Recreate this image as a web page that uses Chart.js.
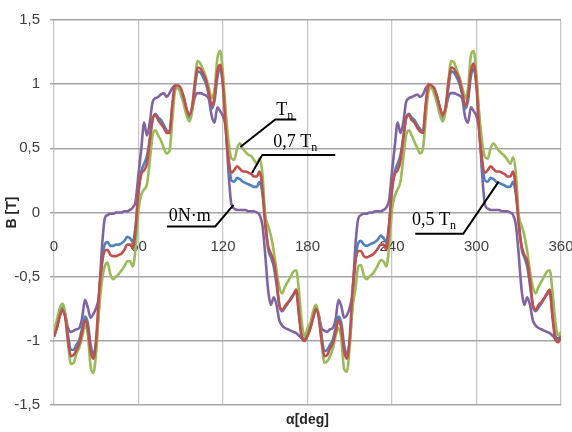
<!DOCTYPE html>
<html>
<head>
<meta charset="utf-8">
<script src="https://cdn.jsdelivr.net/npm/chart.js@4.4.0/dist/chart.umd.min.js"></script>
<style>
  html, body { margin: 0; padding: 0; background: #ffffff; }
  #chart { display: block; }
</style>
</head>
<body>
<canvas id="chart" width="572" height="432"></canvas>
<script>
// Rotor angle in electrical degrees, sampled every 2 degrees
const angles = [
  0,2,4,6,8,10,12,14,16,18,20,22,24,26,28,30,32,34,36,38,40,42,44,46,48,50,52,54,56,58,
  60,62,64,66,68,70,72,74,76,78,80,82,84,86,88,90,92,94,96,98,100,102,104,106,108,110,112,114,116,118,
  120,122,124,126,128,130,132,134,136,138,140,142,144,146,148,150,152,154,156,158,160,162,164,166,168,170,172,174,176,178,
  180,182,184,186,188,190,192,194,196,198,200,202,204,206,208,210,212,214,216,218,220,222,224,226,228,230,232,234,236,238,
  240,242,244,246,248,250,252,254,256,258,260,262,264,266,268,270,272,274,276,278,280,282,284,286,288,290,292,294,296,298,
  300,302,304,306,308,310,312,314,316,318,320,322,324,326,328,330,332,334,336,338,340,342,344,346,348,350,352,354,356,358,360
];

// Flux density B [T] at no load (0 N·m)
const bNoLoad = [
  -0.95,-0.9,-0.8,-0.74,-0.8,-0.9,-0.93,-0.92,-0.91,-0.9,-0.82,-0.68,-0.74,-0.82,-0.79,-0.74,-0.64,-0.28,-0.05,-0.02,-0.01,-0.01,0.0,0.0,0.0,0.01,0.01,0.02,0.04,0.09,0.3,0.5,0.7,0.6,0.7,0.86,0.89,0.9,0.92,0.93,0.9,0.93,0.97,0.99,0.97,
  0.95,0.9,0.81,0.74,0.8,0.9,0.93,0.93,0.92,0.91,0.88,0.75,0.7,0.82,0.79,0.75,0.65,0.3,0.06,0.03,0.02,0.02,0.02,0.02,0.01,0.01,0.01,0.0,-0.02,-0.1,-0.33,-0.6,-0.72,-0.66,-0.72,-0.84,-0.88,-0.9,-0.91,-0.92,-0.93,-0.94,-0.96,-0.98,-0.98,
  -0.96,-0.9,-0.8,-0.74,-0.8,-0.9,-0.92,-0.93,-0.91,-0.9,-0.83,-0.68,-0.73,-0.82,-0.8,-0.74,-0.62,-0.26,-0.05,-0.02,-0.01,-0.01,0.0,0.0,0.01,0.01,0.01,0.02,0.04,0.1,0.32,0.52,0.7,0.62,0.7,0.86,0.89,0.9,0.91,0.92,0.9,0.92,0.97,0.99,0.97,
  0.95,0.9,0.81,0.74,0.8,0.9,0.93,0.93,0.92,0.91,0.88,0.74,0.7,0.82,0.79,0.75,0.64,0.3,0.06,0.03,0.02,0.02,0.02,0.02,0.01,0.01,0.01,0.0,-0.02,-0.1,-0.33,-0.6,-0.72,-0.66,-0.72,-0.84,-0.88,-0.9,-0.91,-0.92,-0.93,-0.94,-0.96,-0.98,-0.98,-0.96
];

// B [T] at 0,5 Tn
const bHalfLoad = [
  -0.96,-0.9,-0.81,-0.75,-0.8,-0.96,-1.07,-1.07,-1.03,-0.99,-0.9,-0.81,-0.86,-1.03,-1.1,-1.0,-0.72,-0.4,-0.25,-0.23,-0.26,-0.26,-0.25,-0.25,-0.24,-0.22,-0.19,-0.2,-0.23,-0.1,0.15,0.32,0.38,0.44,0.57,0.72,0.77,0.74,0.72,0.68,0.64,0.63,0.82,0.97,0.98,
  0.96,0.9,0.81,0.75,0.8,0.97,1.1,1.09,1.05,1.0,0.91,0.81,0.87,1.05,1.12,1.0,0.72,0.42,0.25,0.24,0.27,0.26,0.24,0.23,0.22,0.21,0.2,0.2,0.24,0.15,-0.05,-0.28,-0.35,-0.42,-0.56,-0.72,-0.77,-0.74,-0.71,-0.67,-0.64,-0.62,-0.8,-0.96,-0.99,
  -0.95,-0.9,-0.82,-0.75,-0.8,-0.96,-1.08,-1.07,-1.03,-0.99,-0.9,-0.81,-0.86,-1.03,-1.1,-1.0,-0.7,-0.38,-0.24,-0.22,-0.25,-0.26,-0.25,-0.24,-0.23,-0.21,-0.18,-0.2,-0.23,-0.08,0.16,0.32,0.38,0.45,0.58,0.73,0.77,0.74,0.72,0.68,0.65,0.63,0.83,0.97,0.98,
  0.96,0.9,0.81,0.75,0.8,0.97,1.1,1.09,1.05,1.0,0.91,0.81,0.87,1.06,1.12,1.0,0.72,0.4,0.25,0.24,0.27,0.26,0.24,0.23,0.22,0.21,0.2,0.2,0.24,0.14,-0.06,-0.28,-0.35,-0.42,-0.57,-0.72,-0.77,-0.74,-0.71,-0.67,-0.64,-0.62,-0.8,-0.96,-0.99,-0.97
];

// B [T] at 0,7 Tn
const bLoad07 = [
  -0.97,-0.9,-0.81,-0.76,-0.82,-1.0,-1.12,-1.11,-1.07,-1.02,-0.93,-0.84,-0.9,-1.08,-1.14,-0.98,-0.62,-0.4,-0.3,-0.29,-0.33,-0.34,-0.34,-0.33,-0.32,-0.29,-0.25,-0.25,-0.28,-0.12,0.18,0.3,0.33,0.38,0.56,0.73,0.76,0.72,0.69,0.66,0.62,0.62,0.84,0.99,0.99,
  0.97,0.9,0.81,0.76,0.82,1.0,1.13,1.12,1.08,1.03,0.93,0.83,0.9,1.1,1.15,0.98,0.64,0.4,0.31,0.33,0.36,0.34,0.32,0.32,0.31,0.3,0.28,0.28,0.32,0.18,-0.1,-0.26,-0.32,-0.38,-0.52,-0.72,-0.76,-0.73,-0.7,-0.68,-0.64,-0.6,-0.8,-0.98,-1.0,
  -0.96,-0.9,-0.82,-0.75,-0.82,-1.0,-1.12,-1.11,-1.06,-1.02,-0.93,-0.84,-0.9,-1.08,-1.14,-0.97,-0.6,-0.38,-0.3,-0.3,-0.34,-0.35,-0.34,-0.33,-0.31,-0.28,-0.25,-0.25,-0.29,-0.1,0.2,0.3,0.33,0.4,0.58,0.74,0.76,0.72,0.7,0.66,0.63,0.62,0.85,1.0,0.99,
  0.97,0.9,0.82,0.76,0.82,1.0,1.13,1.12,1.08,1.03,0.93,0.83,0.91,1.1,1.16,0.98,0.62,0.4,0.31,0.33,0.36,0.34,0.32,0.32,0.31,0.3,0.28,0.28,0.32,0.17,-0.1,-0.26,-0.33,-0.38,-0.53,-0.72,-0.76,-0.72,-0.7,-0.67,-0.63,-0.6,-0.82,-0.99,-1.01,-0.97
];

// B [T] at rated torque Tn
const bRated = [
  -0.92,-0.84,-0.75,-0.71,-0.79,-1.02,-1.18,-1.17,-1.1,-1.05,-0.97,-0.88,-0.95,-1.2,-1.25,-1.08,-0.76,-0.54,-0.42,-0.39,-0.48,-0.52,-0.5,-0.48,-0.45,-0.42,-0.38,-0.38,-0.42,-0.27,0.02,0.14,0.18,0.22,0.4,0.6,0.64,0.6,0.56,0.5,0.46,0.48,0.72,0.95,0.98,
  0.92,0.85,0.76,0.71,0.78,1.02,1.18,1.16,1.11,1.05,0.97,0.89,0.96,1.2,1.26,1.08,0.78,0.55,0.42,0.41,0.5,0.54,0.5,0.47,0.45,0.44,0.41,0.38,0.42,0.3,-0.02,-0.1,-0.18,-0.3,-0.45,-0.58,-0.63,-0.58,-0.54,-0.5,-0.46,-0.45,-0.62,-0.86,-0.97,
  -0.9,-0.86,-0.77,-0.72,-0.8,-1.0,-1.17,-1.16,-1.12,-1.06,-0.96,-0.9,-0.98,-1.22,-1.24,-1.04,-0.74,-0.6,-0.42,-0.41,-0.49,-0.52,-0.5,-0.48,-0.45,-0.41,-0.37,-0.38,-0.42,-0.26,0.02,0.13,0.18,0.24,0.42,0.6,0.64,0.6,0.55,0.5,0.46,0.5,0.74,0.95,0.98,
  0.92,0.85,0.76,0.71,0.79,1.02,1.18,1.17,1.11,1.05,0.97,0.89,0.97,1.22,1.26,1.06,0.76,0.55,0.43,0.42,0.5,0.54,0.51,0.48,0.46,0.44,0.41,0.38,0.43,0.3,-0.02,-0.1,-0.18,-0.3,-0.46,-0.58,-0.63,-0.58,-0.54,-0.5,-0.46,-0.45,-0.62,-0.85,-0.96,-0.93
];

const xTicks = [0, 60, 120, 180, 240, 300, 360];
const yTicks = [-1.5, -1, -0.5, 0, 0.5, 1, 1.5];

const series = [
  { label: '0N\u00B7m',   values: bNoLoad,   color: '#8064A2', order: 3 },
  { label: '0,5 Tn', values: bHalfLoad, color: '#4F81BD', order: 2 },
  { label: 'Tn',     values: bRated,    color: '#9BBB59', order: 1 },
  { label: '0,7 Tn', values: bLoad07,   color: '#C0504D', order: 0 }
];

// Callout labels: text anchor and leader path in data units (angle, B)
const callouts = [
  { main: 'T',      sub: 'n', at: [157.8, 0.76],   path: [[132.3, 0.51], [157.1, 0.725], [172.0, 0.725]] },
  { main: '0,7 T',  sub: 'n', at: [155.7, 0.511],  path: [[140.6, 0.307], [147.9, 0.449], [199.7, 0.449]] },
  { main: '0N\u00B7m', sub: '', at: [81.4, -0.065], path: [[127.5, 0.06], [114.5, -0.109], [80.2, -0.109]] },
  { main: '0,5 T',  sub: 'n', at: [254.2, -0.096], path: [[315.7, 0.241], [290.6, -0.166], [256.5, -0.166]] }
];

const calloutPlugin = {
  id: 'callouts',
  afterDatasetsDraw(chart) {
    const { ctx } = chart;
    const xs = chart.scales.x, ys = chart.scales.y;
    ctx.save();
    ctx.strokeStyle = '#000000';
    ctx.lineWidth = 2;
    ctx.fillStyle = '#000000';
    callouts.forEach(c => {
      ctx.beginPath();
      c.path.forEach((p, i) => {
        const px = xs.getPixelForValue(p[0]);
        const py = ys.getPixelForValue(p[1]);
        if (i === 0) ctx.moveTo(px, py); else ctx.lineTo(px, py);
      });
      ctx.stroke();
      const tx = xs.getPixelForValue(c.at[0]);
      const ty = ys.getPixelForValue(c.at[1]);
      ctx.textBaseline = 'alphabetic';
      ctx.textAlign = 'left';
      ctx.font = '18px "Liberation Serif", "Times New Roman", serif';
      ctx.fillText(c.main, tx, ty);
      if (c.sub) {
        const w = ctx.measureText(c.main).width;
        ctx.font = '12px "Liberation Serif", "Times New Roman", serif';
        ctx.fillText(c.sub, tx + w, ty + 4);
      }
    });
    ctx.restore();
  }
};

const tickFont = { family: '"Liberation Sans Narrow", "Arial Narrow", "Liberation Sans", sans-serif', size: 15 };
const titleFont = { family: '"Liberation Sans Narrow", "Arial Narrow", "Liberation Sans", sans-serif', size: 14, weight: 'bold' };

new Chart(document.getElementById('chart'), {
  type: 'line',
  data: {
    datasets: series.map(s => ({
      label: s.label,
      data: angles.map((a, i) => ({ x: a, y: s.values[i] })),
      borderColor: s.color,
      backgroundColor: s.color,
      borderWidth: 2.6,
      pointRadius: 0,
      cubicInterpolationMode: 'monotone',
      fill: false,
      order: s.order,
      xAxisID: 'x',
      yAxisID: 'y'
    }))
  },
  options: {
    responsive: false,
    animation: false,
    devicePixelRatio: 1,
    layout: { padding: { top: 20, right: 11, bottom: 0, left: 0 } },
    plugins: { legend: { display: false }, tooltip: { enabled: false } },
    scales: {
      x: {
        type: 'linear', min: 0, max: 360,
        position: { y: 0 },
        afterBuildTicks: s => { s.ticks = xTicks.map(v => ({ value: v })); },
        afterFit: s => { s.paddingLeft = 0; s.paddingRight = 0; },
        ticks: { padding: 25, color: '#404040', font: tickFont, maxRotation: 0, autoSkip: false },
        grid: { color: '#c8c8c8', lineWidth: 1.3, drawTicks: false },
        border: { display: false }
      },
      xTitle: {
        type: 'linear', axis: 'x', position: 'bottom', min: 0, max: 360,
        ticks: { display: false },
        grid: { display: false, drawTicks: false },
        border: { display: false },
        title: { display: true, text: '\u03B1[deg]', color: '#262626', font: titleFont, padding: { top: 0, bottom: 3 } },
        afterFit: s => { s.height = 27; s.paddingLeft = 0; s.paddingRight = 0; }
      },
      y: {
        type: 'linear', min: -1.5, max: 1.5,
        afterBuildTicks: s => { s.ticks = yTicks.map(v => ({ value: v })); },
        ticks: { padding: 10, color: '#404040', font: tickFont, callback: v => String(v).replace('.', ',') },
        grid: { color: '#a6a6a6', lineWidth: 1.5, tickLength: 4 },
        border: { display: false },
        title: { display: true, text: 'B [T]', color: '#262626', font: titleFont, padding: { top: 4, bottom: 0 } },
        afterFit: s => { s.width = 54; }
      }
    }
  },
  plugins: [calloutPlugin]
});
</script>
</body>
</html>
